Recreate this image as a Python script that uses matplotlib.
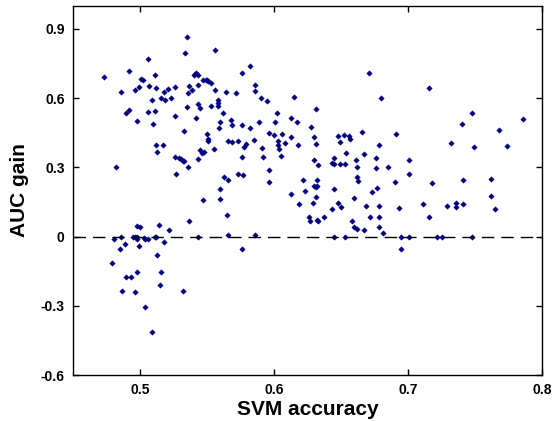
import matplotlib
matplotlib.use("Agg")
import matplotlib.pyplot as plt
import numpy as np

# SVM accuracy / AUC gain
svm_acc = [
    0.473, 0.482, 0.486, 0.490, 0.492, 0.492, 0.496, 0.498, 0.499, 0.501,
    0.502, 0.506, 0.507, 0.506, 0.509, 0.510, 0.511, 0.511, 0.512, 0.512,
    0.513, 0.517, 0.516, 0.518, 0.519, 0.521, 0.523, 0.526, 0.526, 0.526,
    0.527, 0.529, 0.531, 0.532, 0.533, 0.533, 0.534, 0.535, 0.535, 0.536,
    0.537, 0.536, 0.539, 0.540, 0.541, 0.542, 0.543, 0.542, 0.543, 0.543,
    0.543, 0.545, 0.545, 0.546, 0.547, 0.548, 0.549, 0.550, 0.550, 0.551,
    0.551, 0.551, 0.553, 0.553, 0.555, 0.556, 0.556, 0.558, 0.558, 0.558,
    0.559, 0.560, 0.560, 0.560, 0.562, 0.563, 0.564, 0.566, 0.566, 0.547,
    0.569, 0.568, 0.569, 0.572, 0.573, 0.573, 0.576, 0.576, 0.576, 0.577,
    0.578, 0.579, 0.582, 0.582, 0.585, 0.586, 0.586, 0.589, 0.590, 0.591,
    0.592, 0.595, 0.596, 0.596, 0.596, 0.600, 0.601, 0.602, 0.603, 0.603,
    0.604, 0.605, 0.606, 0.608, 0.613, 0.613, 0.613, 0.615, 0.617, 0.618,
    0.622, 0.623, 0.628, 0.630, 0.631, 0.631, 0.630, 0.633, 0.632, 0.630,
    0.631, 0.632, 0.631, 0.643, 0.645, 0.645, 0.645, 0.648, 0.649, 0.649,
    0.652, 0.653, 0.654, 0.656, 0.657, 0.660, 0.661, 0.662, 0.662, 0.663,
    0.666, 0.667, 0.671, 0.673, 0.676, 0.676, 0.677, 0.678, 0.680, 0.685,
    0.691, 0.690, 0.701, 0.701, 0.716, 0.718, 0.732, 0.740, 0.741, 0.748,
    0.749, 0.762, 0.762, 0.768, 0.774, 0.786,
    0.565, 0.566, 0.537, 0.543, 0.532, 0.522, 0.514, 0.518, 0.512, 0.511,
    0.513, 0.516, 0.515, 0.509, 0.504, 0.506, 0.504, 0.503, 0.500, 0.498,
    0.499, 0.498, 0.498, 0.496, 0.495, 0.498, 0.496, 0.493, 0.490, 0.487,
    0.489, 0.486, 0.485, 0.481, 0.479,
    0.586, 0.576, 0.619, 0.629, 0.626, 0.627, 0.632, 0.633, 0.637, 0.643,
    0.648, 0.650, 0.645, 0.653, 0.658, 0.660, 0.662, 0.667, 0.669, 0.672,
    0.678, 0.678, 0.678, 0.681,
    0.693, 0.695, 0.701, 0.695, 0.711, 0.716, 0.722, 0.725, 0.729, 0.736,
    0.736, 0.741, 0.748, 0.765,
]
auc_gain = [
    0.690, 0.304, 0.628, 0.538, 0.550, 0.716, 0.635, 0.501, 0.649, 0.685,
    0.681, 0.772, 0.654, 0.541, 0.593, 0.490, 0.545, 0.701, 0.645, 0.397,
    0.368, 0.397, 0.599, 0.628, 0.593, 0.641, 0.602, 0.649, 0.523, 0.346,
    0.273, 0.343, 0.338, 0.326, 0.326, 0.459, 0.795, 0.866, 0.560, 0.622,
    0.654, 0.304, 0.636, 0.701, 0.707, 0.711, 0.701, 0.514, 0.576, 0.335,
    0.659, 0.557, 0.375, 0.362, 0.678, 0.369, 0.681, 0.680, 0.447, 0.424,
    0.413, 0.675, 0.566, 0.665, 0.380, 0.808, 0.635, 0.566, 0.594, 0.581,
    0.472, 0.499, 0.165, 0.205, 0.537, 0.257, 0.628, 0.413, 0.245, 0.159,
    0.410, 0.506, 0.485, 0.622, 0.413, 0.273, 0.710, 0.486, 0.346, 0.267,
    0.387, 0.401, 0.739, 0.472, 0.417, 0.659, 0.632, 0.499, 0.603, 0.384,
    0.346, 0.586, 0.449, 0.289, 0.238, 0.439, 0.499, 0.538, 0.414, 0.398,
    0.380, 0.351, 0.445, 0.404, 0.430, 0.516, 0.187, 0.607, 0.495, 0.398,
    0.247, 0.196, 0.477, 0.433, 0.401, 0.553, 0.332, 0.312, 0.247, 0.221,
    0.216, 0.218, 0.170, 0.320, 0.343, 0.315, 0.205, 0.437, 0.411, 0.313,
    0.439, 0.315, 0.364, 0.437, 0.424, 0.168, 0.332, 0.260, 0.303, 0.241,
    0.453, 0.359, 0.711, 0.192, 0.343, 0.299, 0.213, 0.397, 0.603, 0.304,
    0.445, 0.238, 0.332, 0.271, 0.645, 0.234, 0.407, 0.490, 0.247, 0.537,
    0.388, 0.252, 0.177, 0.463, 0.393, 0.510,
    0.092, 0.009, 0.069, 0.000, -0.235, 0.027, 0.051, -0.025, 0.000, 0.000,
    -0.081, -0.155, -0.208, -0.413, -0.306, -0.010, -0.010, -0.007, 0.040, 0.048,
    -0.039, -0.003, -0.010, 0.000, 0.000, -0.155, -0.239, -0.174, -0.174, -0.234,
    -0.032, 0.000, -0.052, -0.010, -0.113,
    0.009, -0.052, 0.140, 0.148, 0.084, 0.068, 0.074, 0.068, 0.084, 0.120,
    0.146, 0.127, 0.000, 0.000, 0.069, 0.040, 0.032, 0.027, 0.131, 0.084,
    0.135, 0.084, 0.042, 0.017,
    0.126, 0.000, 0.000, -0.053, 0.140, 0.084, 0.000, 0.000, 0.131, 0.144,
    0.130, 0.140, 0.000, 0.120,
]

xticks = [0.5, 0.6, 0.7, 0.8]
yticks = [-0.6, -0.3, 0, 0.3, 0.6, 0.9]
yticks_text = ["-0.6", "-0.3", "0", "0.3", "0.6", "0.9"]

plt.rcParams["font.family"] = ["Liberation Sans", "DejaVu Sans"]

fig = plt.figure(figsize=(5.52, 4.21), dpi=100)
ax = fig.add_axes([0.132, 0.109, 0.85, 0.877])

ax.plot(svm_acc, auc_gain, "D", color="#000080", markersize=2.8, markeredgewidth=0.3)
ax.axhline(0, color="black", linestyle=(0, (9, 5)), linewidth=1.0)

ax.set_xlim(0.45, 0.8)
ax.set_ylim(-0.6, 1.0)
ax.set_xticks(xticks)
ax.set_xticklabels([str(t) for t in xticks])
ax.set_yticks(yticks)
ax.set_yticklabels(yticks_text)
ax.tick_params(direction="in", top=True, right=True, length=4, width=1,
               labelsize=10, pad=6)
for lab in ax.get_xticklabels() + ax.get_yticklabels():
    lab.set_fontweight("bold")
for s in ax.spines.values():
    s.set_linewidth(1.0)

ax.set_xlabel("SVM accuracy", fontsize=15, fontweight="bold", labelpad=2)
ax.set_ylabel("AUC gain", fontsize=15, fontweight="bold", labelpad=8)

fig.savefig("out.png", dpi=100)
